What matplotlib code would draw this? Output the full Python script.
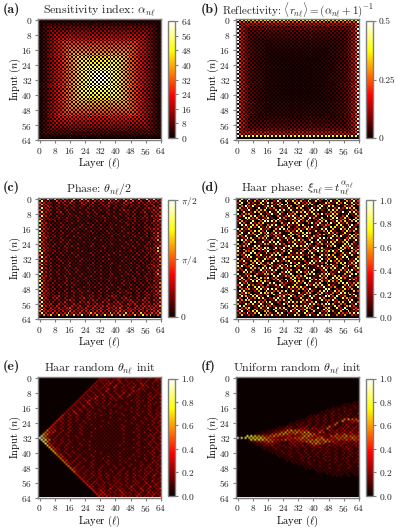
import numpy as np
import matplotlib
matplotlib.use("Agg")
import matplotlib.pyplot as plt

plt.rcParams.update({
    "font.family": "cmr10", "mathtext.fontset": "cm", "axes.unicode_minus": False,
    "axes.formatter.use_mathtext": True, "text.color": "#222222",
})

W, H = 398, 528
TICKS = [0, 8, 16, 24, 32, 40, 48, 56, 64]
TITLES = [r"Sensitivity index: $\alpha_{n\ell}$",
          r"Reflectivity: $\langle r_{n\ell}\rangle=(\alpha_{n\ell}+1)^{-1}$",
          r"Phase: $\theta_{n\ell}/2$",
          r"Haar phase: $\xi_{n\ell}=t_{n\ell}^{\alpha_{n\ell}}$",
          r"Haar random $\theta_{n\ell}$ init",
          r"Uniform random $\theta_{n\ell}$ init"]
LETTERS = ["(a)", "(b)", "(c)", "(d)", "(e)", "(f)"]

# ring index of each 2x2 block of the mesh (a) and (b)
ring_rows = [
"00000000000000000000000000000000","01111111111111111111111111111110",
"01222222222222222222222222222210","01233333333333333333333333333210",
"01234444444444444444444444443210","01234555555555555555555555543210",
"01234566666666666666666666543210","01234567777777777777777776543210",
"01234567888888888888888876543210","01234567899999999999999876543210",
"0123456789aaaaaaaaaaaa9876543210","0123456789abbbbbbbbbba9876543210",
"0123456789abccccccccba9876543210","0123456789abcddddddcba9876543210",
"0123456789abcdeeeedcba9876543210","0123456789abcdeffedcba9876543210",
"0123456789abcdeffedcba9876543210","0123456789abcdeeeedcba9876543210",
"0123456789abcddddddcba9876543210","0123456789abccccccccba9876543210",
"0123456789abbbbbbbbbba9876543210","0123456789aaaaaaaaaaaa9876543210",
"01234567899999999999999876543210","01234567888888888888888876543210",
"01234567777777777777777776543210","01234566666666666666666666543210",
"01234555555555555555555555543210","01234444444444444444444444443210",
"01233333333333333333333333333210","01222222222222222222222222222210",
"01111111111111111111111111111110","00000000000000000000000000000000"]
alpha_levels = [3, 7, 11, 15, 19, 23, 27, 31, 35, 39, 43, 47, 51, 55, 60, 64]
refl_levels = [.22, .14, .095, .07, .055, .045, .038, .033, .029, .026, .023, .021, .019, .018, .017, .016]
refl_edge_rows = 0.38
refl_edge_cols = 0.50

# one digit per active mesh cell, in tenths of the colour range
phase_rows = """
52736243 17285263 74638253 72618373
72314232 41324132 31423142 42314232
43221321 32132231 21322132 31322322
63212132 21231212 32121231 22132313
32321212 12121321 12312121 21212132
73212121 21212112 12121212 12123224
42321212 12112121 21211232 12121232
63212312 11212121 12121121 21231223
33121121 21121112 11211212 12112123
73212112 12112111 21121121 21121334
42211212 11211211 12112112 12122122
52321121 21121121 11211211 21212125
72112112 11211112 12111211 12112233
43211211 21112111 11211121 21121222
63121121 11121121 21112112 11212123
32211212 11211211 11211211 21122122
83212112 12112111 21121121 12112333
42121211 21111211 12111211 21121222
73211121 11211121 11211112 11212134
42121212 11121111 21112111 21121222
83212112 12111211 11121121 12112124
33211211 11211121 11211112 11211232
73121121 21111211 21111211 21121225
42211212 11121111 11211121 12112123
63212112 11211121 11121112 11212222
32121121 21111211 21111211 21121134
83211212 11211111 12111121 12112326
42121121 12111121 11211112 11211222
63212112 11121111 21111211 21121226
72121211 21111211 11121111 12112133
42211121 11211121 11211211 11212222
83212112 12111111 21111121 21121225
33121211 11121211 11211111 12112133
73211212 11211111 21111211 11211224
42121121 21111121 11121111 21121222
63212112 11211211 11211121 12112325
32121211 21111111 21111211 11212133
73211121 12112111 11211112 12112222
42121212 11211211 21111211 21121224
63212112 12111121 11211121 12112132
82121211 21121111 21121112 11212225
43211121 11211211 11211211 21121133
63121212 12112111 21112111 12112222
42211211 21121121 12111211 21212224
73212112 11211211 11211121 12112132
62121121 21112112 11211212 11212125
83211212 12111211 21121121 21121222
42121211 21121121 12112112 12112234
73212112 11211211 21211211 21212122
53121121 21212112 12112121 12121235
83211212 12121121 21121212 21212223
42321121 21212212 12121121 12123134
63212312 12121321 21232121 21212222
73123121 21231212 12121232 12132125
43212212 32121232 12312122 31232132
82321231 21323121 32123212 32123124
53231322 13212323 21322313 23132233
73323132 32313232 33232323 13233235
43132323 41323132 31323413 23232332
83231323 23132323 23132323 32313423
53323232 43233323 32323432 32323234
73243236 32423642 32634263 42632435
25362736 26372536 27362563 26374624
00000000 00000000 00000000 00000000
"""

haar_rows = """
29370516 84271936 05172948 31608274
71826395 03918274 62817305 92716384
38053172 96250817 93462017 52849173
90627481 13798206 15980742 30617295
15948203 78162950 48203691 87205361
62730918 45031827 70391825 14938670
84291567 02697381 25167930 78620145
07138624 91840257 69482013 55291783
93562071 38271946 02718594 38601927
48079356 10524893 87326109 76148025
20984613 72095138 46095271 18937406
71642895 05836274 71803952 62450798
36218049 98741025 93621468 03957268
84093572 13062987 20584716 92836105
19827640 57914832 78102935 40781693
03584926 82370614 15793042 87261930
97361082 40698723 63842179 06195827
52148739 06213548 90417258 72038461
28095174 93860172 47961302 85417203
70436918 25401896 18203674 39052876
64810925 71539260 59826410 27691485
13972568 04827391 30472895 91304762
89627014 36051827 85160932 04827619
05368291 87920463 46093718 76258041
72490136 52874019 12950463 38107962
46819702 03215978 78624109 59084723
90135648 71849062 03519872 10276493
37206895 46192703 69847251 43680157
81547023 90326481 25063974 78391065
26098417 35740926 91780324 05162839
63790582 17890142 34216085 96048271
04981326 62047598 80672915 37289016
95230718 43819027 57014393 60741928
38167490 09735821 14285907 84620359
72405961 58120394 80397246 01579368
16082953 72469108 27653108 93081452
89347106 05283978 49201674 27406918
40276589 91674203 06912385 68193047
63815094 38702961 71328049 05264783
07962348 24059817 94870136 32917605
91430526 67183490 30579268 84106279
52879013 08926475 68012749 17643902
28041675 93520168 42893156 09785134
76394802 15847290 01367924 53921860
03518967 40261938 75081263 86470213
84620391 79053126 39526804 12698357
39175240 52684017 20948671 73105948
61807954 01392876 84017392 46082519
05462783 98710342 56392018 90327461
97213608 24568093 03741689 28561074
24850197 67082431 92560473 15398620
73096425 18345760 48217906 60731892
18627930 90267184 35086129 84925037
40935871 36841902 71492850 27086413
85761024 02957361 16730284 59312780
32098647 71403986 84259017 03671925
60847291 38029514 02387469 96154038
97213856 43120697 69840153 28506741
14570362 90867215 23751906 70839124
82906145 27349068 47062189 31297056
39047816 60812593 92807134 95160723
53826907 41790326 18430925 02743689
27143096 58362719 60592847 81526043
00000000 00000000 00000000 00000000
"""

haar_sens_rows = """
00000000 00000000 32212312 11221213
00000000 00000002 22123121 12212132
00000000 00000002 21221312 21212122
00000000 00000021 22312212 21321211
00000000 00000022 12213122 12132112
00000000 00000221 22131212 31212211
00000000 00000212 21312121 21321122
00000000 00002212 13121221 32121121
00000000 00002121 21212131 21211212
00000000 00022121 31212213 12112122
00000000 00021213 12121312 11211221
00000000 00221231 21221211 12112212
00000000 00212312 12112111 21221211
00000000 02213121 21211121 12112122
00000000 02121312 11212112 11211221
00000000 22131211 21121211 12122112
00000000 21212121 12111211 21211212
00000002 21312112 11211121 12112121
00000002 13121211 21112111 21121212
00000022 13112121 11211211 12112122
00000031 21211211 21111121 11211212
00000312 12112121 11211111 21121222
00000321 21211211 11111211 12112121
00003212 12121111 21111121 11211212
00003121 21112111 11211111 21121122
00031212 11211211 11111211 12112212
00032121 21121111 21111121 11211122
00321212 11211121 11111211 12112121
00423121 21121111 11111121 11211212
04331212 11211211 11111111 21121122
05421212 11121111 11111121 11211221
74212112 12111211 11111111 12112212
a5312121 11211111 11111121 11211122
86421212 11121111 11111111 21121212
06412121 21111211 11111121 11211221
06321212 11211111 11111111 12112122
00531212 11121211 11111211 11211212
00532121 21111111 11111111 21121221
00053212 11211211 11111121 11211122
00052121 21111121 11111111 12112212
00005212 12111111 21111211 11211221
00004312 11211211 11111111 21121212
00000431 21211121 11211211 11211122
00000421 12121111 21111112 11121212
00000043 12112121 11211211 12112122
00000042 21211211 12111121 11211221
00000004 21211121 11211211 21121212
00000004 12121211 21121112 11212122
00000000 43121121 21112121 12112212
00000000 42212112 11211211 21221221
00000000 04212121 21121212 11212212
00000000 03121212 12112121 21122122
00000000 00312121 21211212 12212131
00000000 00321212 12121121 21221212
00000000 00031212 21212212 12122122
00000000 00032121 21122121 22121312
00000000 00003122 12212212 12213122
00000000 00003212 21221221 22122131
00000000 00000321 22122212 31221322
00000000 00000312 21312212 21312123
00000000 00000031 32212321 22132212
00000000 00000032 31221322 12213222
00000000 00000003 33212231 22312232
00000000 00000003 23221322 13222312
"""

uniform_sens_rows = """
00000000 00000000 00000000 00000000
00000000 00000000 00000000 00000000
00000000 00000000 00000000 00000000
00000000 00000000 00000000 00000000
00000000 00000000 00000000 00000000
00000000 00000000 00000000 00000000
00000000 00000000 00000000 00000000
00000000 00000000 00000000 00000000
00000000 00000000 00000000 00000000
00000000 00000000 00000000 00000000
00000000 00000000 00000000 00000000
00000000 00000000 00000000 00000000
00000000 00000000 00000000 00000000
00000000 00000000 00000000 00000011
00000000 00000000 00000000 00001111
00000000 00000000 00000000 00011121
00000000 00000000 00000000 01112112
00000000 00000000 00000001 11211211
00000000 00000000 00000011 12112111
00000000 00000000 00000111 21211212
00000000 00000000 00011212 12121211
00000000 00000000 00112121 21212121
00000000 00000000 01121212 12125655
00000000 00000001 11212121 21262345
00000000 00000011 12121212 12512232
00000000 00000112 21212121 25123212
00000000 00011221 22312122 52122323
00000000 00112312 33233225 21232232
00000000 11223565 54422341 32323232
00000011 12356556 56632541 23232423
00000112 24566545 35565322 32535343
00897654 56543423 46654432 55456554
a9877786 54322445 56543563 34555465
00078876 54445434 54556565 43545454
00012344 55322133 34565646 54323324
00001123 32211232 21356542 13232232
00000112 23122123 23224321 32231223
00000011 12212212 12122312 12123212
00000001 11211121 21212122 21212321
00000000 11121212 12121212 12121212
00000000 01112121 21211212 21212122
00000000 00111211 21212121 12121212
00000000 00011121 12121212 21211221
00000000 00001111 21211121 12122112
00000000 00000111 12112112 21211212
00000000 00000011 11211211 12112122
00000000 00000000 11121111 21121211
00000000 00000000 01111211 11211212
00000000 00000000 00111111 21111211
00000000 00000000 00001111 11211111
00000000 00000000 00000111 11111111
00000000 00000000 00000001 11111011
00000000 00000000 00000000 01110101
00000000 00000000 00000000 00000000
00000000 00000000 00000000 00000000
00000000 00000000 00000000 00000000
00000000 00000000 00000000 00000000
00000000 00000000 00000000 00000000
00000000 00000000 00000000 00000000
00000000 00000000 00000000 00000000
00000000 00000000 00000000 00000000
00000000 00000000 00000000 00000000
00000000 00000000 00000000 00000000
00000000 00000000 00000000 00000000
"""


def checker(arr):
    out = np.zeros((64, 64))
    for n in range(64):
        for l in range(64):
            if (n + l) % 2 == 0:
                out[n, l] = arr[n, l]
    return out


def from_rings(levels):
    idx = np.array([[int(c, 16) for c in r] for r in ring_rows])
    return np.kron(np.array(levels)[idx], np.ones((2, 2)))


def from_digits(text):
    rows = [r.replace(" ", "") for r in text.strip().splitlines()]
    out = np.zeros((64, 64))
    for n, r in enumerate(rows):
        for k, c in enumerate(r[:32]):
            out[n, 2 * k + n % 2] = int(c, 16) / 10
    return out


alpha = checker(from_rings(alpha_levels))
alpha[63] = 0
refl = from_rings(refl_levels)
refl[[0, 62]] = refl_edge_rows
refl[:, [0, 63]] = refl_edge_cols
refl = checker(refl)
refl[63] = 0
phase = np.minimum(from_digits(phase_rows) * 1.1, 1) * np.pi / 2
haar = from_digits(haar_rows)
e_data = from_digits(haar_sens_rows) * 1.3
f_data = from_digits(uniform_sens_rows)

DATA = [alpha, refl, phase, haar, e_data, f_data]
VMAX = [64, 0.5, np.pi / 2, 1, 1, 1]
CB_T = [[0, 8, 16, 24, 32, 40, 48, 56, 64], [0, .25, .5], [0, np.pi / 4, np.pi / 2],
        [0, .2, .4, .6, .8, 1], [0, .2, .4, .6, .8, 1], [0, .2, .4, .6, .8, 1]]
CB_L = [None, ["0", "0.25", "0.5"], ["0", r"$\pi/4$", r"$\pi/2$"], None, None, None]
TITLE_SIZE = [8.6, 7.9, 8.6, 8.6, 8.6, 8.6]
TITLE_PAD = [4, 4, 4, 4, 4, 4]
INTERP = ["nearest", "nearest", "nearest", "nearest", "bilinear", "bilinear"]

GREY = "#7f7f7f"
fig = plt.figure(figsize=(W / 100, H / 100), dpi=100)
lefts = [38, 236]
tops = [19, 198, 376.5]
for i in range(6):
    x0, y0 = lefts[i % 2], tops[i // 2]
    ax = fig.add_axes([x0 / W, 1 - (y0 + 121) / H, 123 / W, 121 / H])
    im = ax.imshow(DATA[i], cmap="hot", vmin=0, vmax=VMAX[i], extent=(-.5, 63.5, 63.5, -.5),
                   aspect="auto", interpolation=INTERP[i], interpolation_stage="rgba")
    ax.set_xlim(-.8, 64)
    ax.set_ylim(64, -.8)
    ax.set_xticks(TICKS)
    ax.set_yticks(TICKS)
    ax.tick_params(labelsize=6.8, length=2.5, width=.8, color=GREY, pad=1.5, labelcolor="#222222")
    for s in ax.spines.values():
        s.set_color(GREY)
        s.set_linewidth(1)
    ax.set_xlabel(r"Layer ($\ell$)", fontsize=7.5, labelpad=-0.5)
    ax.set_ylabel(r"Input ($n$)", fontsize=7.5, labelpad=-1)
    ax.set_title(TITLES[i], fontsize=TITLE_SIZE[i], pad=TITLE_PAD[i])
    fig.text((x0 - 35) / W, 1 - (y0 - 10) / H, LETTERS[i], family="cmb10", fontsize=10, va="center")
    cax = fig.add_axes([(x0 + 130) / W, 1 - (y0 + 119) / H, 7 / W, 117 / H])
    cb = fig.colorbar(im, cax=cax, ticks=CB_T[i])
    if CB_L[i]:
        cb.set_ticklabels(CB_L[i])
    cb.outline.set_edgecolor(GREY)
    cb.outline.set_linewidth(1)
    cax.tick_params(labelsize=6.8, length=2.5, width=.8, color=GREY, pad=1.5, labelcolor="#222222")

fig.savefig("out.png", dpi=100)
